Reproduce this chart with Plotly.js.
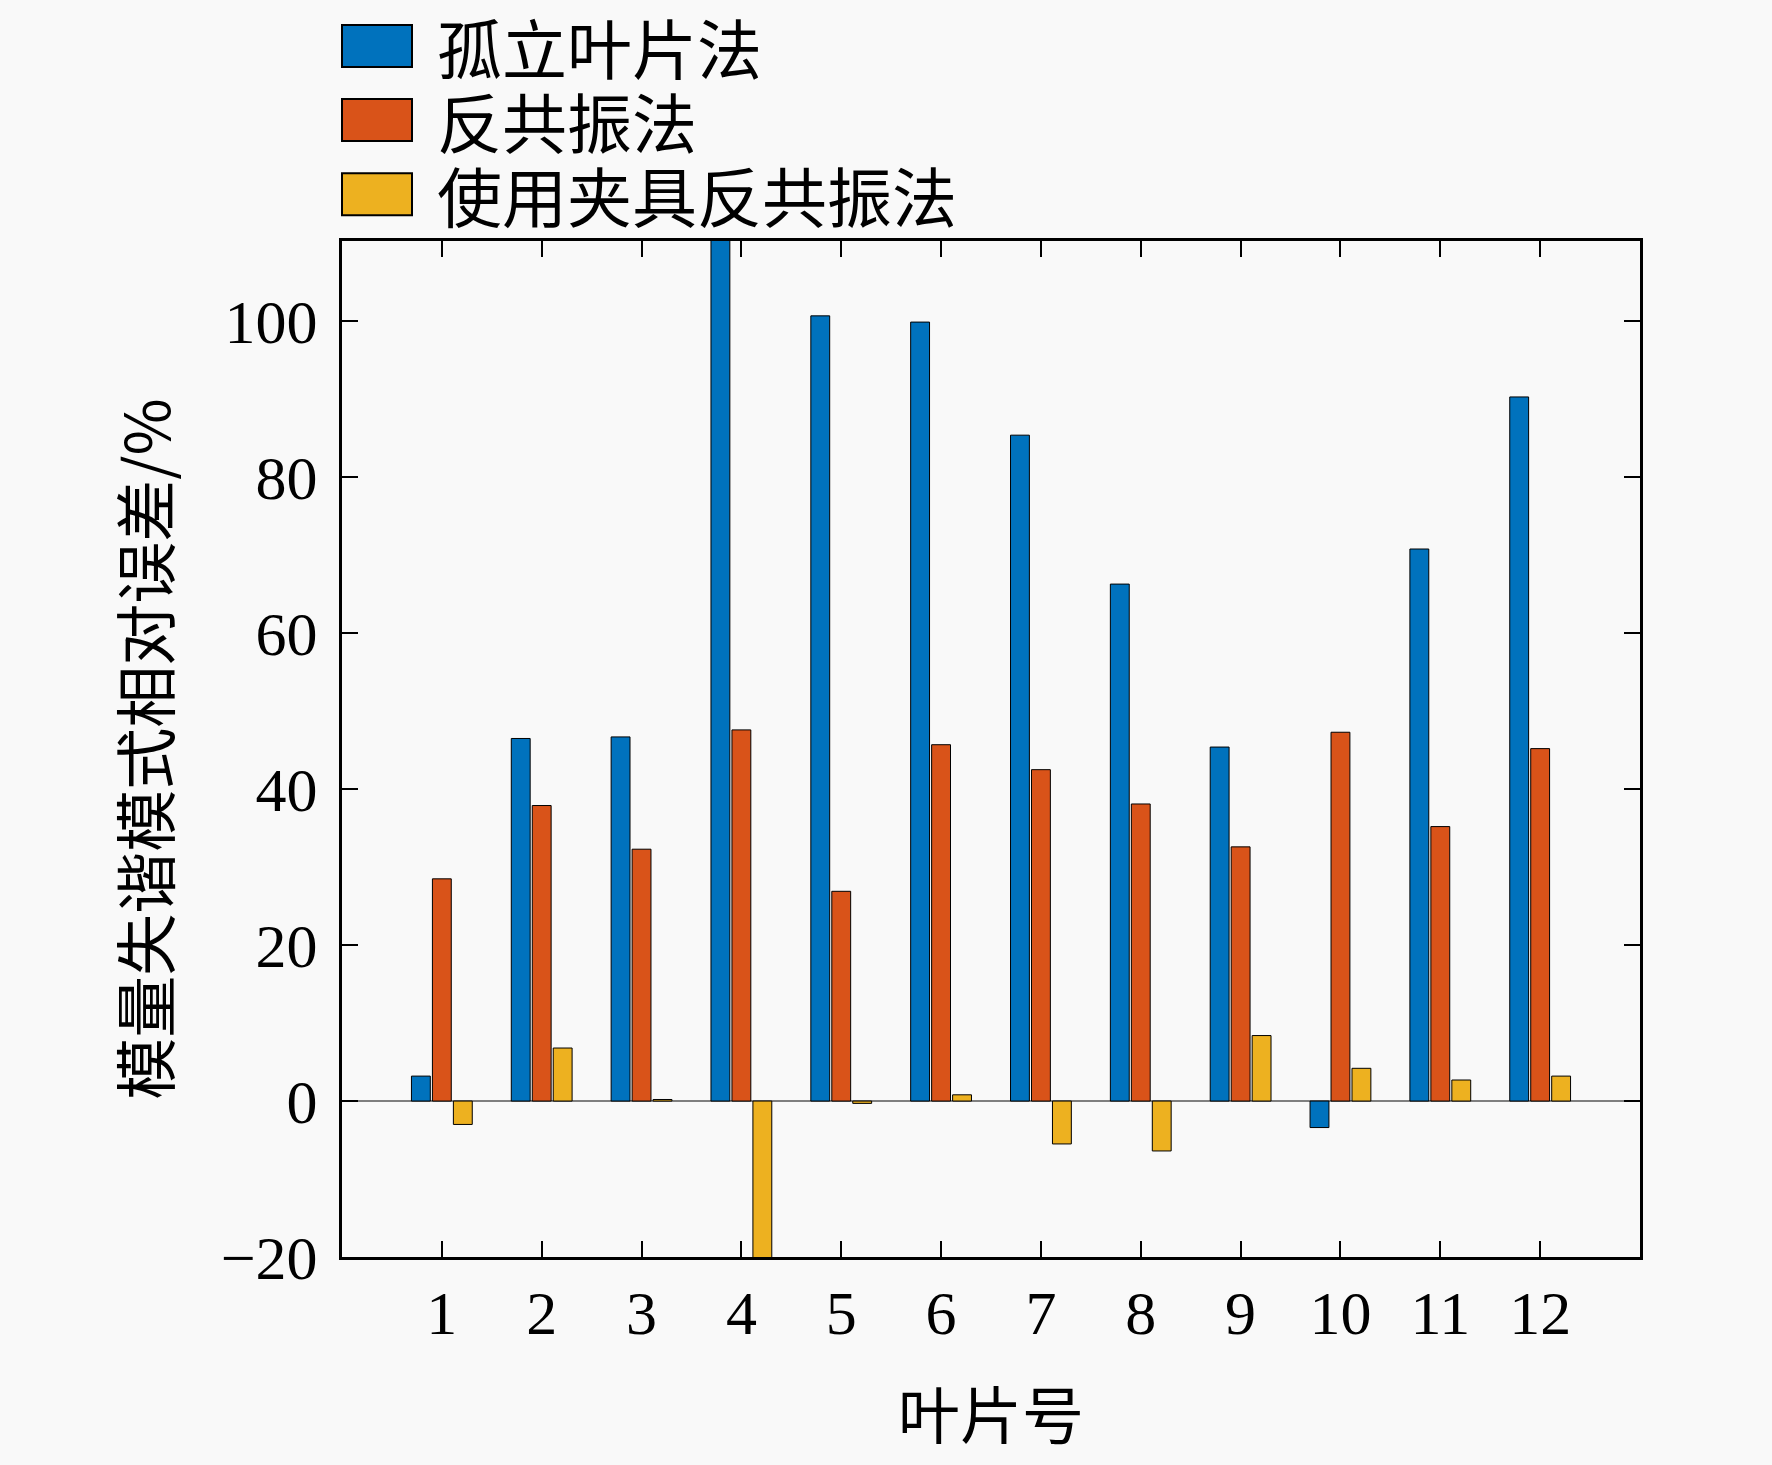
<!DOCTYPE html>
<html>
<head>
<meta charset="utf-8">
<script src="https://cdn.plot.ly/plotly-3.0.1.min.js"></script>
<style>
  html, body { margin: 0; padding: 0; background: #f9f9f9; }
  #chart { width: 1772px; height: 1465px; }
</style>
</head>
<body>
<div id="chart"></div>
<script>
// blade number
var blades = [1, 2, 3, 4, 5, 6, 7, 8, 9, 10, 11, 12];
// relative error of modulus mistuning pattern, %
var isolated = [3.2, 46.5, 46.7, 116, 100.7, 99.9, 85.4, 66.3, 45.4, -3.4, 70.8, 90.3];
var antiRes = [28.5, 37.9, 32.3, 47.6, 26.9, 45.7, 42.5, 38.1, 32.6, 47.3, 35.2, 45.2];
var fixtureAntiRes = [-3.0, 6.8, 0.2, -24, -0.3, 0.8, -5.5, -6.4, 8.4, 4.2, 2.7, 3.2];

var names = ['孤立叶片法', '反共振法', '使用夹具反共振法'];
var colors = ['#0072BD', '#D95319', '#EDB120'];
var series = [isolated, antiRes, fixtureAntiRes];

var cjk = '"Noto Sans CJK SC", sans-serif';
var serif = '"Liberation Serif", "Times New Roman", serif';

var traces = series.map(function (ys, i) {
  return {
    type: 'bar',
    x: blades,
    y: ys,
    name: names[i],
    marker: { color: colors[i], line: { color: '#000', width: 1 } },
    showlegend: false,
    cliponaxis: true
  };
});

// hand-made legend so the swatches can be as big as in the figure
var legendY = [1.192, 1.119, 1.046];
var shapes = [], annotations = [];
names.forEach(function (n, i) {
  shapes.push({
    type: 'rect', xref: 'paper', yref: 'paper',
    xsizemode: 'pixel', ysizemode: 'pixel',
    xanchor: 0, yanchor: legendY[i],
    x0: 0, x1: 70, y0: -21, y1: 21,
    fillcolor: colors[i], line: { color: '#000', width: 2 }
  });
  annotations.push({
    xref: 'paper', yref: 'paper', x: 0.072, y: legendY[i],
    xanchor: 'left', yanchor: 'middle', showarrow: false,
    height: 72, valign: 'middle',
    text: n, font: { family: cjk, size: 65, color: '#000' }
  });
});

var layout = {
  width: 1772,
  height: 1465,
  paper_bgcolor: '#f9f9f9',
  plot_bgcolor: '#f9f9f9',
  margin: { l: 342, r: 132, t: 241, b: 208 },
  barmode: 'group',
  bargap: 0.37,
  bargroupgap: 0.1,
  showlegend: false,
  xaxis: {
    range: [0, 13],
    tickvals: blades,
    ticks: 'inside', ticklen: 16, tickwidth: 2, tickcolor: '#000',
    showline: true, linecolor: '#000', linewidth: 3, mirror: 'ticks',
    showgrid: false, zeroline: false,
    ticklabelstandoff: 0,
    tickfont: { family: serif, size: 62, color: '#000' },
    title: { text: '叶片号', standoff: 50, font: { family: cjk, size: 62, color: '#000' } }
  },
  yaxis: {
    range: [-20, 110.3],
    tickvals: [-20, 0, 20, 40, 60, 80, 100],
    ticks: 'inside', ticklen: 16, tickwidth: 2, tickcolor: '#000',
    showline: true, linecolor: '#000', linewidth: 3, mirror: 'ticks',
    showgrid: false,
    zeroline: true, zerolinecolor: '#7f7f7f', zerolinewidth: 2,
    ticklabelstandoff: 9,
    tickfont: { family: serif, size: 62, color: '#000' },
    title: { text: '模量失谐模式相对误差/%', standoff: 30, font: { family: cjk, size: 62, color: '#000' } }
  },
  shapes: shapes,
  annotations: annotations
};

Plotly.newPlot('chart', traces, layout, { staticPlot: true });
</script>
</body>
</html>
